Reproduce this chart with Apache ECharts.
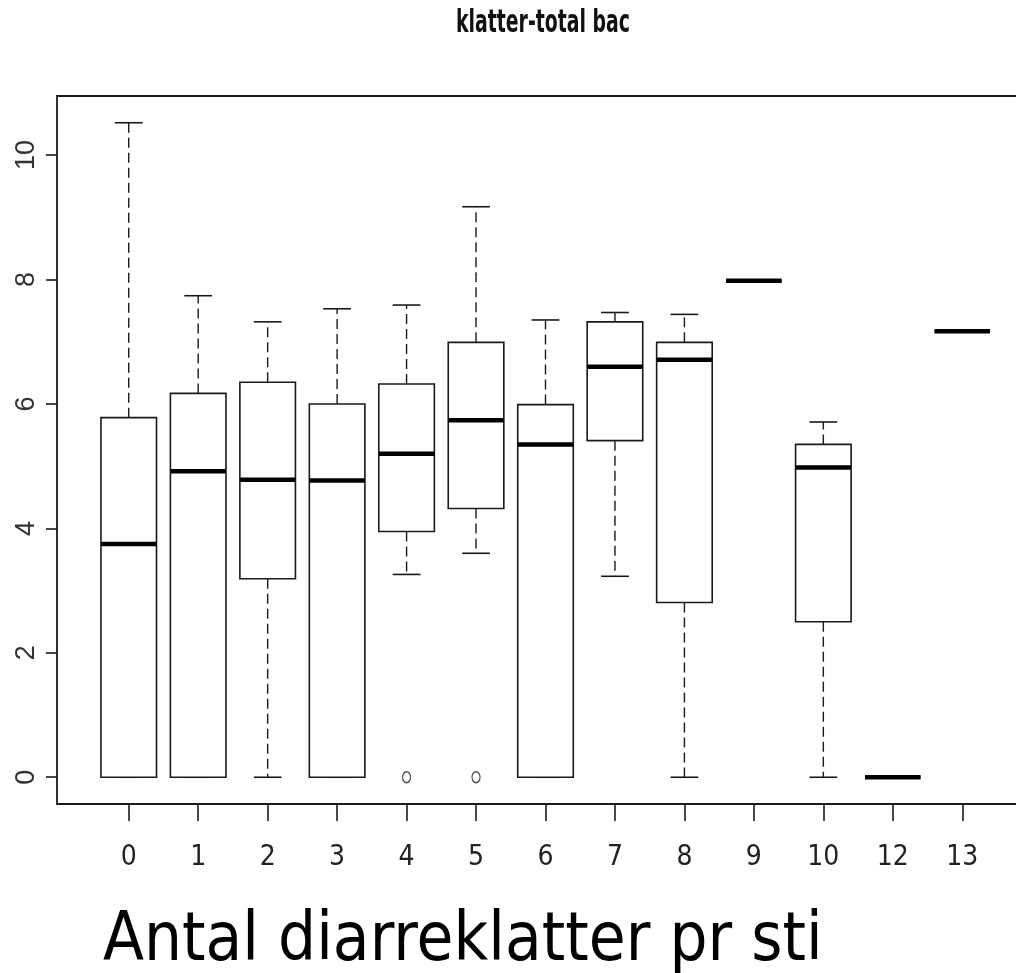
<!DOCTYPE html>
<html>
<head>
<meta charset="utf-8">
<title>klatter-total bac</title>
<script src="https://cdn.jsdelivr.net/npm/echarts@6/dist/echarts.min.js"></script>
<style>
  html, body { margin: 0; padding: 0; background: #fff; }
  #chart { width: 1016px; height: 973px; }
</style>
</head>
<body>
<div id="chart"></div>
<script>
// Groups: number of diarrhoea droppings per pen
const categories = ['0', '1', '2', '3', '4', '5', '6', '7', '8', '9', '10', '12', '13'];
// Five-number summaries per group
const whiskerLow  = [0,     0,    0,    0,    3.26, 3.60, 0,    3.23, 0,    7.98, 0,    0, 7.17];
const q1          = [0,     0,    3.19, 0,    3.95, 4.32, 0,    5.41, 2.81, 7.98, 2.50, 0, 7.17];
const median      = [3.75,  4.92, 4.78, 4.77, 5.20, 5.74, 5.35, 6.60, 6.71, 7.98, 4.98, 0, 7.17];
const q3          = [5.78,  6.17, 6.35, 6.00, 6.32, 6.99, 5.99, 7.32, 6.99, 7.98, 5.35, 0, 7.17];
const whiskerHigh = [10.52, 7.74, 7.32, 7.53, 7.59, 9.17, 7.35, 7.47, 7.44, 7.98, 5.71, 0, 7.17];
// Points beyond the whiskers
const outlierGroups = ['4', '5'];
const outlierValues = [0, 0];
// Y axis tick values
const yTicks = [0, 2, 4, 6, 8, 10];

const Y_MIN = -0.43, Y_MAX = 10.95;
const INK = '#1a1a1a';

const boxData = categories.map((c, i) => [i, whiskerLow[i], q1[i], median[i], q3[i], whiskerHigh[i]]);
const outlierData = outlierGroups.map((g, i) => [g, outlierValues[i]]);

function renderBox(params, api) {
  const idx = api.value(0);
  const band = api.size([1, 0])[0];
  const half = band * 0.4;
  const capHalf = band * 0.2;
  const cx = api.coord([idx, 0])[0];
  const y = v => api.coord([idx, v])[1];
  const yLo = y(api.value(1)), yQ1 = y(api.value(2)), yMed = y(api.value(3));
  const yQ3 = y(api.value(4)), yHi = y(api.value(5));
  const solid = { stroke: INK, lineWidth: 1.6, fill: null };
  const dashed = { stroke: INK, lineWidth: 1.4, lineDash: [10, 5], fill: null };
  return {
    type: 'group',
    children: [
      { type: 'line', shape: { x1: cx, y1: yQ3, x2: cx, y2: yHi }, style: dashed },
      { type: 'line', shape: { x1: cx, y1: yQ1, x2: cx, y2: yLo }, style: dashed },
      { type: 'line', shape: { x1: cx - capHalf, y1: yHi, x2: cx + capHalf, y2: yHi }, style: solid },
      { type: 'line', shape: { x1: cx - capHalf, y1: yLo, x2: cx + capHalf, y2: yLo }, style: solid },
      { type: 'rect', shape: { x: cx - half, y: yQ3, width: half * 2, height: yQ1 - yQ3 },
        style: { stroke: INK, lineWidth: 1.6, fill: '#fff' } },
      { type: 'line', shape: { x1: cx - half, y1: yMed, x2: cx + half, y2: yMed },
        style: { stroke: '#000', lineWidth: 4.5, lineCap: 'butt' } }
    ]
  };
}

const chart = echarts.init(document.getElementById('chart'), null, { renderer: 'canvas' });
chart.setOption({
  animation: false,
  backgroundColor: '#fff',
  grid: [
    // plotting frame (its right side runs past the page edge)
    { left: 57, top: 96, width: 1000, height: 708, show: true, borderColor: INK, borderWidth: 1.8,
      backgroundColor: 'transparent', containLabel: false, outerBoundsMode: 'none' },
    // boxes
    { left: 94, top: 96, width: 903, height: 708, containLabel: false, outerBoundsMode: 'none' }
  ],
  xAxis: [
    { gridIndex: 0, type: 'value', min: 0, max: 1, show: false },
    {
      gridIndex: 1, type: 'category', data: categories, boundaryGap: true, position: 'bottom',
      axisLine: { show: false, onZero: false },
      axisTick: { show: true, alignWithLabel: true, length: 17, lineStyle: { color: INK, width: 1.6 } },
      axisLabel: { margin: 40, fontFamily: "'DejaVu Sans Condensed', 'Liberation Sans Narrow', 'Arial Narrow', sans-serif",
        fontSize: 28, color: '#222' },
      splitLine: { show: false }
    }
  ],
  yAxis: [
    {
      gridIndex: 0, type: 'value', min: Y_MIN, max: Y_MAX,
      axisLine: { show: false },
      axisTick: { show: true, length: 11, customValues: yTicks, lineStyle: { color: INK, width: 1.6 } },
      axisLabel: { customValues: yTicks, rotate: 90, margin: 17, fontFamily: "'Liberation Sans', Arial, sans-serif",
        fontSize: 27, color: '#333' },
      splitLine: { show: false }
    },
    { gridIndex: 1, type: 'value', min: Y_MIN, max: Y_MAX, show: false, splitLine: { show: false } }
  ],
  graphic: [
    {
      type: 'text', x: 543, y: 40, originX: 0, originY: 0, scaleY: 1.5,
      style: { text: 'klatter-total bac', x: 0, y: 0, textAlign: 'center', textVerticalAlign: 'bottom',
        font: "bold 21px 'DejaVu Sans Condensed', 'Liberation Sans Narrow', 'Arial Narrow', sans-serif", fill: '#111' }
    },
    {
      type: 'text', x: 103, y: 976, originX: 0, originY: 0, scaleY: 1.14,
      style: { text: 'Antal diarreklatter pr sti', x: 0, y: 0, textAlign: 'left', textVerticalAlign: 'bottom',
        font: "60px 'DejaVu Sans', Verdana, sans-serif", fill: '#000' }
    }
  ],
  series: [
    {
      type: 'custom', xAxisIndex: 1, yAxisIndex: 1, data: boxData, renderItem: renderBox,
      encode: { x: 0, y: [1, 2, 3, 4, 5] }, clip: false
    },
    {
      type: 'scatter', xAxisIndex: 1, yAxisIndex: 1, data: outlierData,
      symbol: 'circle', symbolSize: [8, 11],
      itemStyle: { color: '#fff', borderColor: INK, borderWidth: 1.3 }
    }
  ]
});
</script>
</body>
</html>
